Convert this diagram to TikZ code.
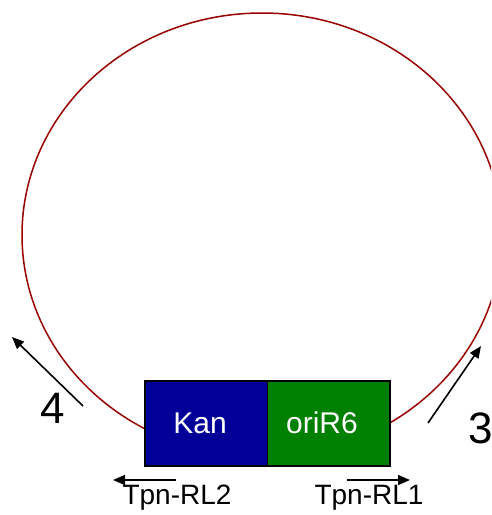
\documentclass[tikz,border=0pt]{standalone}
\usepackage{fontspec}
\setmainfont{Liberation Sans}
\usetikzlibrary{arrows.meta}
\definecolor{ringred}{HTML}{990000}
\definecolor{kanblue}{HTML}{000099}
\definecolor{origreen}{HTML}{008000}
\begin{document}
\begin{tikzpicture}[x=1pt,y=-1pt,
  seg/.style={draw=black,line width=1.5pt,minimum width=122.5pt,minimum height=85pt,inner sep=0pt,anchor=north west},
  segtext/.style={text=white,font=\fontsize{30}{30}\selectfont},
  arr/.style={line width=1.6pt,-{Triangle[length=12pt,width=10pt]}},
  lbl/.style={font=\fontsize{28}{28}\selectfont,inner sep=0pt},
  num/.style={font=\fontsize{44}{44}\selectfont,inner sep=0pt}]
\useasboundingbox (0,0) rectangle (491,515);
\clip (0,0) rectangle (491,515);
\draw[ringred,line width=1.5pt] (262,235) ellipse [x radius=240, y radius=222];
\node[seg,fill=kanblue] (kan) at (144,380) {};
\node[seg,fill=origreen] (ori) at (266.5,380) {};
\node[segtext] (kant) at (200,423) {Kan};
\node[segtext] (orit) at (322,423) {oriR6};
\coordinate (a4s) at (83,406);
\coordinate (a4e) at (12,337);
\draw[arr] (a4s) -- (a4e);
\node[num] (n4) at (53,408) {4};
\coordinate (a3s) at (428,423);
\coordinate (a3e) at (481,346);
\draw[arr] (a3s) -- (a3e);
\node[num] (n3) at (481,428) {3};
\coordinate (l2s) at (176,480);
\coordinate (l2e) at (113,480);
\draw[arr] (l2s) -- (l2e);
\coordinate (l1s) at (347,480);
\coordinate (l1e) at (410,480);
\draw[arr] (l1s) -- (l1e);
\node[lbl] (t2) at (177,498) {Tpn-RL2};
\node[lbl] (t1) at (369,498) {Tpn-RL1};
\end{tikzpicture}
\end{document}
